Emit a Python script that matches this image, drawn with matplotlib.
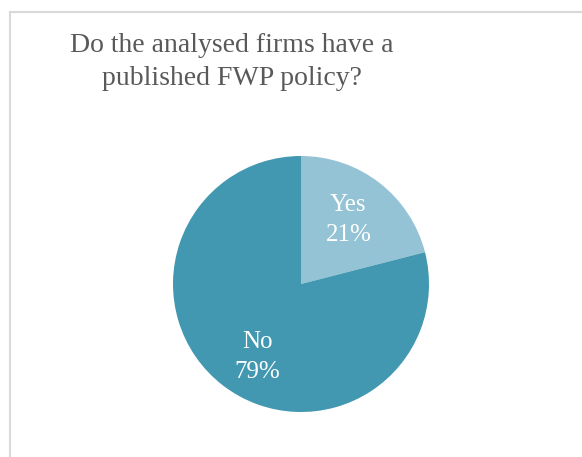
import matplotlib.pyplot as plt
from matplotlib.lines import Line2D

labels = ['Yes', 'No']
values = [21, 79]
colors = ['#93c3d4', '#4298b0']
title = 'Do the analysed firms have a\npublished FWP policy?'

plt.rcParams['font.family'] = ['Liberation Serif', 'DejaVu Serif']

fig = plt.figure(figsize=(5.82, 4.57), dpi=100)

# chart area border (left and top edges only are in view)
W, H = 582, 457
fig.add_artist(Line2D([10 / W, 10 / W], [0, 1 - 12 / H], color='#d9d9d9', lw=1.5))
fig.add_artist(Line2D([10 / W, 1], [1 - 12 / H, 1 - 12 / H], color='#d9d9d9', lw=1.5))

fig.text(232 / W, 1 - 62 / H, title, ha='center', va='center', fontsize=20,
         color='#595959', linespacing=1.4)

# pie centred at (301, 284) px with radius 128 px
r = 128
ax = fig.add_axes([(301 - r) / W, 1 - (284 + r) / H, 2 * r / W, 2 * r / H])
names = iter(labels)
wedges, texts, autotexts = ax.pie(
    values, colors=colors, startangle=90, counterclock=False,
    autopct=lambda p: '%s\n%d%%' % (next(names), round(p)),
    pctdistance=0.64, textprops=dict(color='white', fontsize=18, linespacing=1.45))
# nudge the data labels to sit like the spreadsheet's best-fit placement
autotexts[0].set_position((0.37, 0.50))
autotexts[1].set_position((-0.34, -0.57))
ax.set_xlim(-1, 1)
ax.set_ylim(-1, 1)
ax.set_aspect('equal')

fig.savefig('out.png', dpi=100)
